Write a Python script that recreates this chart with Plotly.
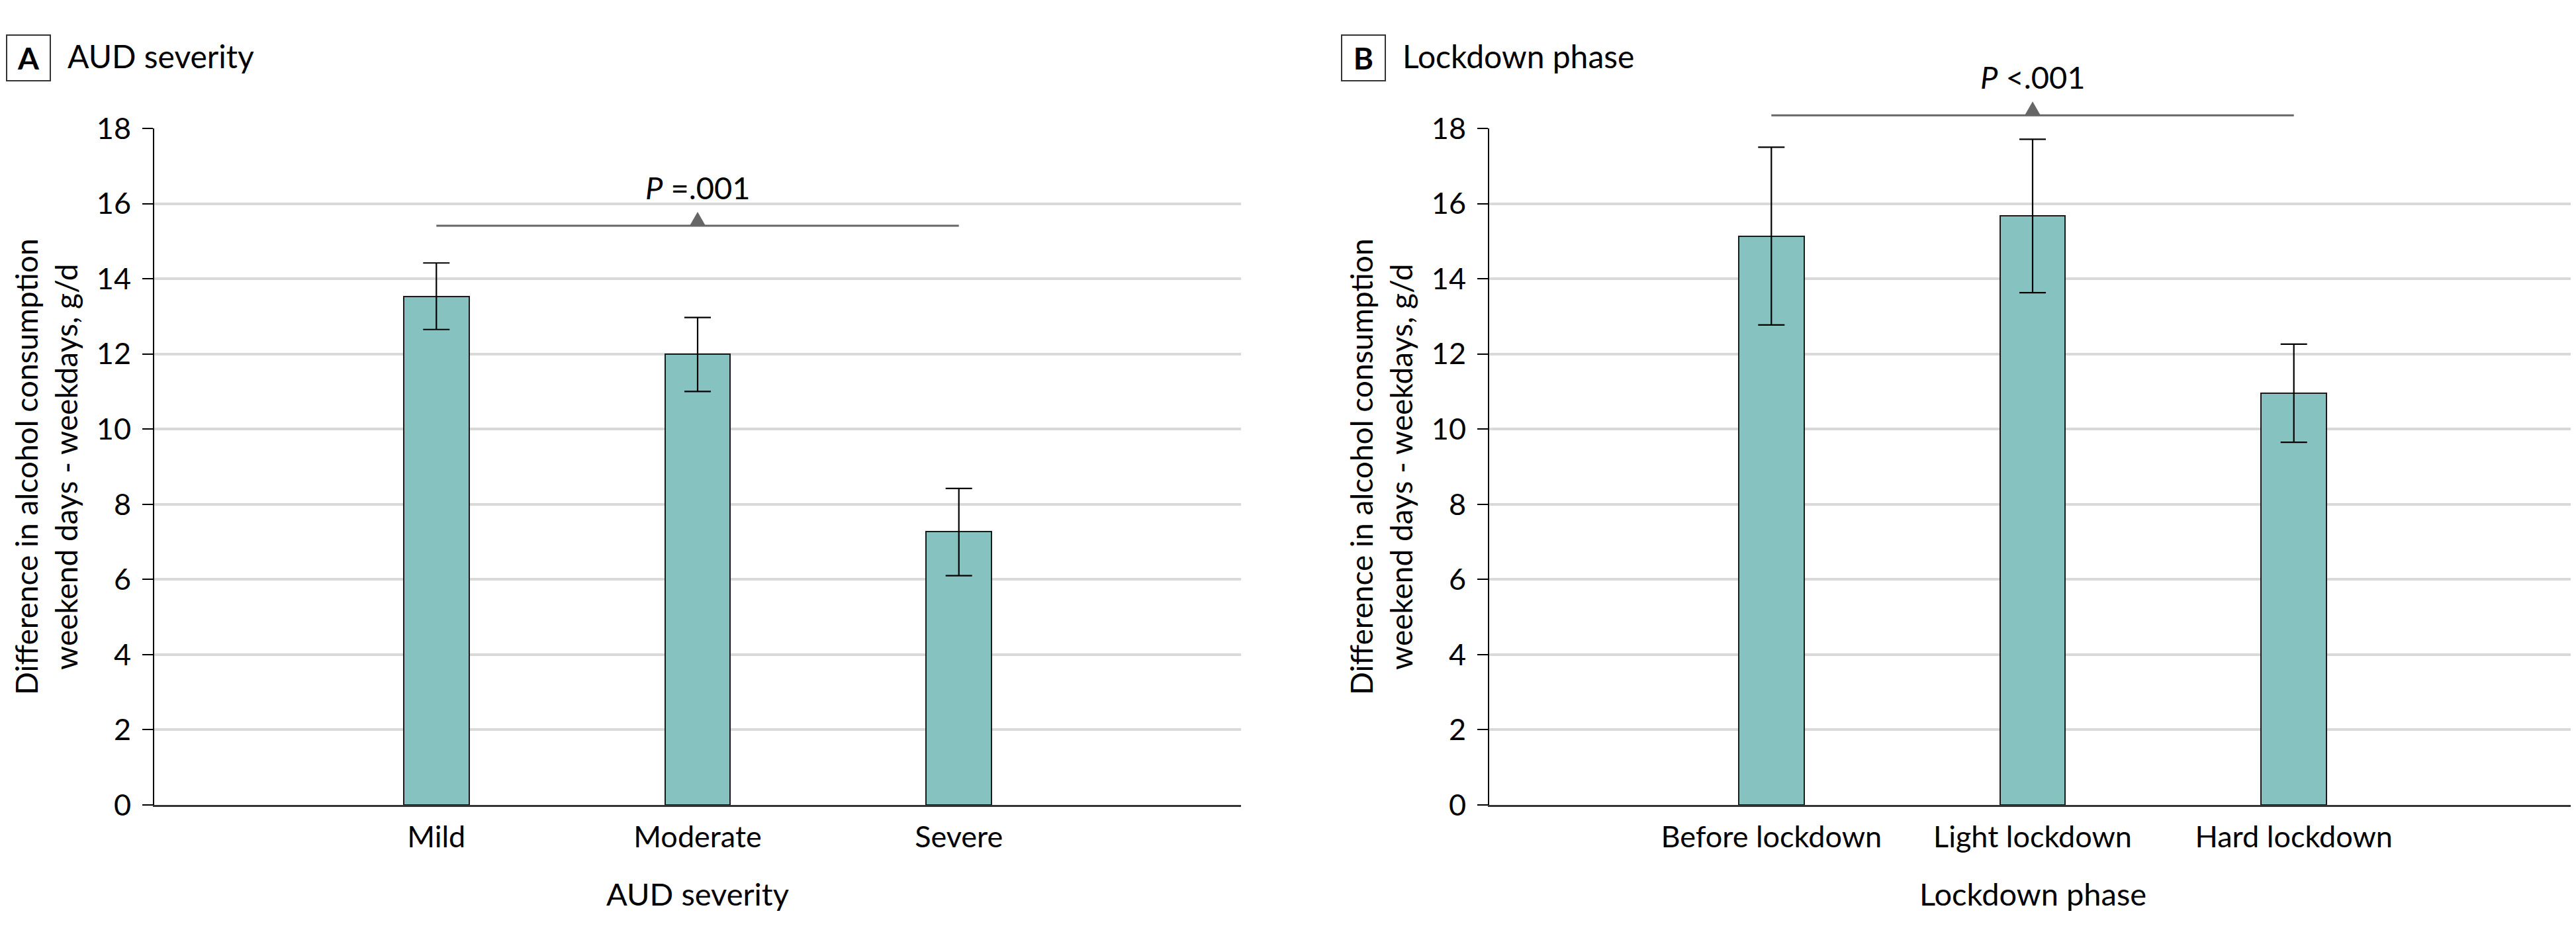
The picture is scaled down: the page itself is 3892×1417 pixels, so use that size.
import plotly.graph_objects as go

# ---------------- data ----------------
aud_categories = ["Mild", "Moderate", "Severe"]
aud_values = [13.53, 12.0, 7.27]
aud_ci_low = [12.65, 11.0, 6.1]
aud_ci_high = [14.42, 12.97, 8.42]

phase_categories = ["Before lockdown", "Light lockdown", "Hard lockdown"]
phase_values = [15.13, 15.67, 10.95]
phase_ci_low = [12.77, 13.63, 9.65]
phase_ci_high = [17.50, 17.71, 12.26]

panel_letters = ["A", "B"]
panel_titles = ["AUD severity", "Lockdown phase"]
x_titles = ["AUD severity", "Lockdown phase"]
y_title = "Difference in alcohol consumption<br>weekend days - weekdays, g/d"
p_texts = ["<i>P</i> =.001", "<i>P</i> &lt;.001"]
p_line_y = [15.41, 18.35]
y_ticks = [0, 2, 4, 6, 8, 10, 12, 14, 16, 18]

# ---------------- style ----------------
W, H = 3892, 1417          # browser window
OFF = 8                    # default body margin of the html page
FW, FH = W - OFF, H - OFF  # figure size so that it fills the window
FONT = "Lato, Liberation Sans, Arial, sans-serif"
BAR_COLOR = "#86C2C0"
GRID = "#d9d9d9"
Y_MAX = 18

def px_x(p):
    """screen x pixel -> paper fraction"""
    return (p - OFF) / FW

def px_y(p):
    """screen y pixel -> paper fraction"""
    return (H - p) / FH

PANEL_OFFSET = 2017
x_domains = [[px_x(233), px_x(1875)], [px_x(233 + PANEL_OFFSET), 1.0]]
y_domain = [px_y(1216), px_y(194)]

fig = go.Figure()

panels = [
    (aud_categories, aud_values, aud_ci_low, aud_ci_high),
    (phase_categories, phase_values, phase_ci_low, phase_ci_high),
]

for i, (cats, vals, lo, hi) in enumerate(panels):
    xs = list(range(len(cats)))
    xa = "x" if i == 0 else "x2"
    ya = "y" if i == 0 else "y2"
    fig.add_trace(go.Bar(
        x=xs, y=vals, width=0.25,
        marker=dict(color=BAR_COLOR, line=dict(color="#1a1a1a", width=2)),
        error_y=dict(type="data", symmetric=False,
                     array=[h - v for h, v in zip(hi, vals)],
                     arrayminus=[v - l for v, l in zip(vals, lo)],
                     color="black", thickness=2.2, width=20),
        xaxis=xa, yaxis=ya, showlegend=False, hoverinfo="skip",
    ))

    axis_common = dict(
        domain=x_domains[i], range=[-1.08, 3.08], tickmode="array",
        tickvals=xs, ticktext=cats, showgrid=False, zeroline=False,
        showline=True, linecolor="#333333", linewidth=3, ticks="",
        tickfont=dict(family=FONT, size=45, color="black"),
        ticklabelstandoff=7, fixedrange=True, automargin=False,
    )
    yaxis_common = dict(
        domain=y_domain, range=[0, Y_MAX], tickmode="array", tickvals=y_ticks,
        showgrid=True, gridcolor=GRID, gridwidth=4, zeroline=False,
        showline=True, linecolor="black", linewidth=2,
        ticks="outside", ticklen=16, tickwidth=2, tickcolor="black",
        tickfont=dict(family=FONT, size=45, color="black"),
        ticklabelstandoff=8, fixedrange=True, automargin=False,
    )
    if i == 0:
        fig.update_layout(xaxis=axis_common, yaxis=dict(yaxis_common, anchor="x"))
    else:
        fig.update_layout(xaxis2=dict(axis_common, anchor="y2"),
                          yaxis2=dict(yaxis_common, anchor="x2"))

    off = PANEL_OFFSET * i
    dom_key = ("x" if i == 0 else "x2")
    ydom_key = ("y domain" if i == 0 else "y2 domain")

    # panel letter box
    fig.add_annotation(
        xref="paper", yref="paper", x=px_x(43 + off), y=px_y(88),
        xanchor="center", yanchor="middle", text="<b>%s</b>" % panel_letters[i],
        showarrow=False, font=dict(family=FONT, size=46, color="black"),
        bordercolor="#333333", borderwidth=2, width=64, height=67, borderpad=0,
        align="center", valign="middle",
    )
    # panel title
    fig.add_annotation(
        xref="paper", yref="paper", x=px_x(100 + off), y=px_y(85),
        xanchor="left", yanchor="middle", text=panel_titles[i],
        showarrow=False, font=dict(family=FONT, size=48, color="black"),
    )
    # y title
    fig.add_annotation(
        xref="paper", yref="paper", x=px_x(69 + off), y=(y_domain[0] + y_domain[1]) / 2,
        xanchor="center", yanchor="middle", text=y_title, textangle=-90,
        showarrow=False, font=dict(family=FONT, size=46, color="black"),
    )
    # x title
    fig.add_annotation(
        xref=dom_key, yref="paper", x=1, y=px_y(1350),
        xanchor="center", yanchor="middle", text=x_titles[i],
        showarrow=False, font=dict(family=FONT, size=47, color="black"),
    )
    # P bracket
    y_frac = p_line_y[i] / Y_MAX
    fig.add_shape(type="line", xref=dom_key, yref=ydom_key,
                  x0=xs[0], x1=xs[-1], y0=y_frac, y1=y_frac,
                  line=dict(color="#666666", width=3), layer="above")
    fig.add_shape(type="path", xref=dom_key, yref=ydom_key,
                  xsizemode="pixel", ysizemode="pixel",
                  xanchor=xs[1], yanchor=y_frac,
                  path="M -12 0 L 12 0 L 0 21 Z",
                  fillcolor="#666666", line=dict(color="#666666", width=0),
                  layer="above")
    fig.add_annotation(
        xref=dom_key, yref=ydom_key, x=xs[1], y=y_frac,
        xanchor="center", yanchor="bottom", yshift=28, text=p_texts[i],
        showarrow=False, font=dict(family=FONT, size=47, color="black"),
    )

fig.update_layout(
    width=FW, height=FH, margin=dict(l=0, r=0, t=0, b=0, pad=0, autoexpand=False),
    paper_bgcolor="white", plot_bgcolor="white",
    bargap=0, font=dict(family=FONT, color="black"),
)

fig.write_html("out.html", config={"displayModeBar": False})
